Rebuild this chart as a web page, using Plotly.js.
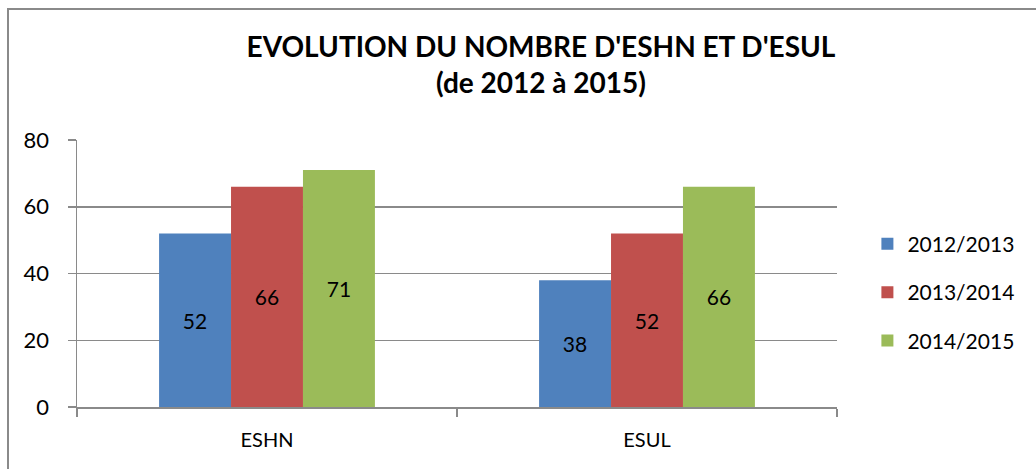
<!DOCTYPE html>
<html><head><meta charset="utf-8">
<script src="https://cdn.plot.ly/plotly-3.0.1.min.js"></script>
<style>
html,body{margin:0;padding:0;background:#fff;}
#wrap{position:absolute;left:0;top:0;width:1036px;height:469px;}
#chart{width:1036px;height:469px;}
#bl{position:absolute;left:7px;top:8px;width:2px;height:461px;background:#8a8a8a;}
#bt{position:absolute;left:7px;top:8px;width:1029px;height:2px;background:#8a8a8a;}
</style></head>
<body>
<div id="wrap"><div id="chart"></div><div id="bl"></div><div id="bt"></div></div>
<script>
const categories = ["ESHN", "ESUL"];
const seriesNames = ["2012/2013", "2013/2014", "2014/2015"];
const values2012 = [52, 38];
const values2013 = [66, 52];
const values2014 = [71, 66];
const colors = ["#4F81BD", "#C0504D", "#9BBB59"];
const yTicks = [0, 20, 40, 60, 80];

const FONT = "Lato, 'Open Sans', sans-serif";
const allVals = [values2012, values2013, values2014];
const traces = allVals.map((v, i) => ({
  type: "bar",
  name: seriesNames[i],
  x: categories,
  y: v,
  text: v.map(String),
  textposition: "inside",
  insidetextanchor: "middle",
  textangle: 0,
  textfont: {family: FONT, size: 21, color: "#000"},
  marker: {color: colors[i], line: {width: 0}},
  legendgroup: "g" + i,
  hoverinfo: "x+y+name"
}));

const layout = {
  width: 1036, height: 469,
  paper_bgcolor: "#fff", plot_bgcolor: "#fff",
  margin: {l: 77, r: 199, t: 140, b: 62},
  barmode: "group",
  bargap: 0.432,
  bargroupgap: 0,
  font: {family: FONT, size: 20, color: "#000"},
  title: {
    text: "<b>EVOLUTION DU NOMBRE D'ESHN ET D'ESUL<br>(de 2012 à 2015)</b>",
    font: {family: FONT, size: 28, color: "#000"},
    x: 541/1036, xref: "container", xanchor: "center",
    y: 1 - 57/469, yref: "container", yanchor: "top"
  },
  xaxis: {
    type: "category",
    showline: true, linecolor: "#8a8a8a", linewidth: 1.5,
    ticks: "outside", tickson: "boundaries", ticklen: 8, tickcolor: "#8a8a8a", tickwidth: 1.5,
    ticklabelstandoff: 14,
    tickfont: {family: FONT, size: 20, color: "#000"},
    showgrid: false, zeroline: false, fixedrange: true
  },
  yaxis: {
    range: [0, 80],
    tickvals: yTicks, ticktext: yTicks.map(String),
    showline: true, linecolor: "#8a8a8a", linewidth: 1.5,
    ticks: "outside", ticklen: 8, tickcolor: "#8a8a8a", tickwidth: 1.5,
    ticklabelstandoff: 14,
    showgrid: true, gridcolor: "#8a8a8a", gridwidth: 1.5,
    zeroline: false,
    tickfont: {family: FONT, size: 22, color: "#000"},
    fixedrange: true
  },
  showlegend: true,
  legend: {
    x: 1.04, xanchor: "left", y: 0.43, yanchor: "middle",
    font: {family: FONT, size: 21, color: "#000"},
    traceorder: "grouped", tracegroupgap: 18,
    itemwidth: 30
  }
};

Plotly.newPlot("chart", traces, layout, {displayModeBar: false, staticPlot: true});
</script>
</body></html>
